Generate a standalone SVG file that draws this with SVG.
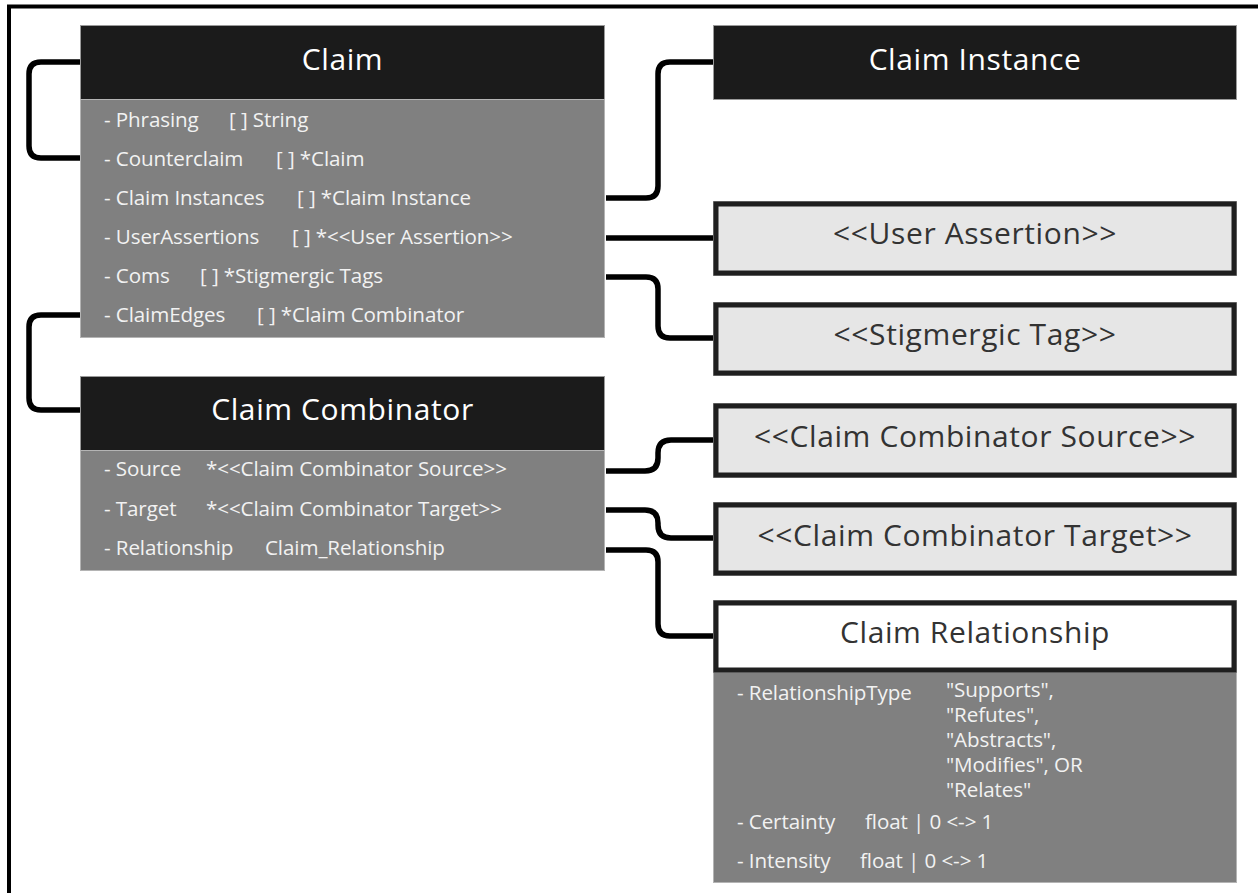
<svg xmlns="http://www.w3.org/2000/svg" width="1258" height="893" viewBox="0 0 1258 893">
  <style>
    .hdr { fill: #1b1b1b; stroke: #9a9a9a; stroke-width: 1; }
    .body { fill: #808080; stroke: #b4b4b4; stroke-width: 1; }
    .iface { fill: #e6e6e6; stroke: #9a9a9a; stroke-width: 1; }
    .iface-in { fill: none; stroke: #1f1f1f; stroke-width: 5; }
    .title { font-family: "Open Sans", "Liberation Sans", sans-serif; font-size: 30px; letter-spacing: 0.6px; fill: #ffffff; text-anchor: middle; }
    .ititle { font-family: "Open Sans", "Liberation Sans", sans-serif; font-size: 30px; letter-spacing: 0.6px; fill: #333333; text-anchor: middle; }
    .row { font-family: "Open Sans", "Liberation Sans", sans-serif; font-size: 20.6px; font-weight: 500; letter-spacing: -0.1px; fill: #f2f2f2; }
    .wire { fill: none; stroke: #000000; stroke-width: 5.5; stroke-linejoin: round; }
    .frame { fill: none; stroke: #000000; stroke-width: 4; }
  </style>

  <rect x="0" y="0" width="1258" height="893" fill="#ffffff"/>
  <path class="frame" d="M9,893 V6.5 H1258"/>

  <!-- connectors -->
  <g id="connectors">
    <path class="wire" d="M80,62 H41 Q29,62 29,74 V146 Q29,158 41,158 H80"/>
    <path class="wire" d="M80,315 H41 Q29,315 29,327 V398 Q29,410 41,410 H80"/>
    <path class="wire" d="M606,198 H646 Q658,198 658,186 V74 Q658,62 670,62 H713"/>
    <path class="wire" d="M606,238 H713"/>
    <path class="wire" d="M606,277 H646 Q658,277 658,289 V326 Q658,338 670,338 H713"/>
    <path class="wire" d="M606,471 H645 Q658,471 658,458 V453 Q658,440 671,440 H713"/>
    <path class="wire" d="M606,510 H645 Q658,510 658,523 V525 Q658,538 671,538 H713"/>
    <path class="wire" d="M606,550 H646 Q658,550 658,562 V624 Q658,636 670,636 H713"/>
  </g>

  <!-- Claim -->
  <g id="claim">
    <rect class="hdr" x="80.5" y="25.5" width="524" height="74"/>
    <rect class="body" x="80.5" y="99.5" width="524" height="238"/>
    <text class="title" x="342.5" y="70">Claim</text>
    <text class="row" y="127"><tspan x="104">- Phrasing</tspan><tspan x="229">[ ] String</tspan></text>
    <text class="row" y="166"><tspan x="104">- Counterclaim</tspan><tspan x="276">[ ] *Claim</tspan></text>
    <text class="row" y="205"><tspan x="104">- Claim Instances</tspan><tspan x="297">[ ] *Claim Instance</tspan></text>
    <text class="row" y="244"><tspan x="104">- UserAssertions</tspan><tspan x="292">[ ] *&lt;&lt;User Assertion&gt;&gt;</tspan></text>
    <text class="row" y="283"><tspan x="104">- Coms</tspan><tspan x="200">[ ] *Stigmergic Tags</tspan></text>
    <text class="row" y="322"><tspan x="104">- ClaimEdges</tspan><tspan x="257">[ ] *Claim Combinator</tspan></text>
  </g>

  <!-- Claim Combinator -->
  <g id="claim-combinator">
    <rect class="hdr" x="80.5" y="376.5" width="524" height="74"/>
    <rect class="body" x="80.5" y="450.5" width="524" height="120"/>
    <text class="title" x="342.5" y="420">Claim Combinator</text>
    <text class="row" y="476"><tspan x="104">- Source</tspan><tspan x="206">*&lt;&lt;Claim Combinator Source&gt;&gt;</tspan></text>
    <text class="row" y="516"><tspan x="104">- Target</tspan><tspan x="206">*&lt;&lt;Claim Combinator Target&gt;&gt;</tspan></text>
    <text class="row" y="555"><tspan x="104">- Relationship</tspan><tspan x="265">Claim_Relationship</tspan></text>
  </g>

  <!-- Claim Instance -->
  <g id="claim-instance">
    <rect class="hdr" x="713.5" y="25.5" width="523" height="74"/>
    <text class="title" x="975" y="70">Claim Instance</text>
  </g>

  <!-- interfaces -->
  <g id="user-assertion">
    <rect class="iface" x="713.5" y="201.5" width="523" height="74"/>
    <rect class="iface-in" x="716" y="204" width="518" height="69"/>
    <text class="ititle" x="975" y="244">&lt;&lt;User Assertion&gt;&gt;</text>
  </g>
  <g id="stigmergic-tag">
    <rect class="iface" x="713.5" y="302.5" width="523" height="73"/>
    <rect class="iface-in" x="716" y="305" width="518" height="68"/>
    <text class="ititle" x="975" y="345">&lt;&lt;Stigmergic Tag&gt;&gt;</text>
  </g>
  <g id="claim-combinator-source">
    <rect class="iface" x="713.5" y="403.5" width="523" height="74"/>
    <rect class="iface-in" x="716" y="406" width="518" height="69"/>
    <text class="ititle" x="975" y="447">&lt;&lt;Claim Combinator Source&gt;&gt;</text>
  </g>
  <g id="claim-combinator-target">
    <rect class="iface" x="713.5" y="502.5" width="523" height="73"/>
    <rect class="iface-in" x="716" y="505" width="518" height="68"/>
    <text class="ititle" x="975" y="546">&lt;&lt;Claim Combinator Target&gt;&gt;</text>
  </g>

  <!-- Claim Relationship -->
  <g id="claim-relationship">
    <rect class="body" x="713.5" y="672.5" width="523" height="210"/>
    <rect x="713.5" y="600.5" width="523" height="72" fill="#ffffff" stroke="#9a9a9a" stroke-width="1"/>
    <rect x="716" y="603" width="518" height="67" fill="none" stroke="#1f1f1f" stroke-width="5"/>
    <text class="ititle" x="975" y="643">Claim Relationship</text>
    <text class="row" y="700"><tspan x="737">- RelationshipType</tspan></text>
    <text class="row"><tspan x="946" y="697">"Supports",</tspan><tspan x="946" y="722">"Refutes",</tspan><tspan x="946" y="747">"Abstracts",</tspan><tspan x="946" y="772">"Modifies", OR</tspan><tspan x="946" y="797">"Relates"</tspan></text>
    <text class="row" y="829"><tspan x="737">- Certainty</tspan><tspan x="865">float | 0 &lt;-&gt; 1</tspan></text>
    <text class="row" y="868"><tspan x="737">- Intensity</tspan><tspan x="860">float | 0 &lt;-&gt; 1</tspan></text>
  </g>
</svg>
